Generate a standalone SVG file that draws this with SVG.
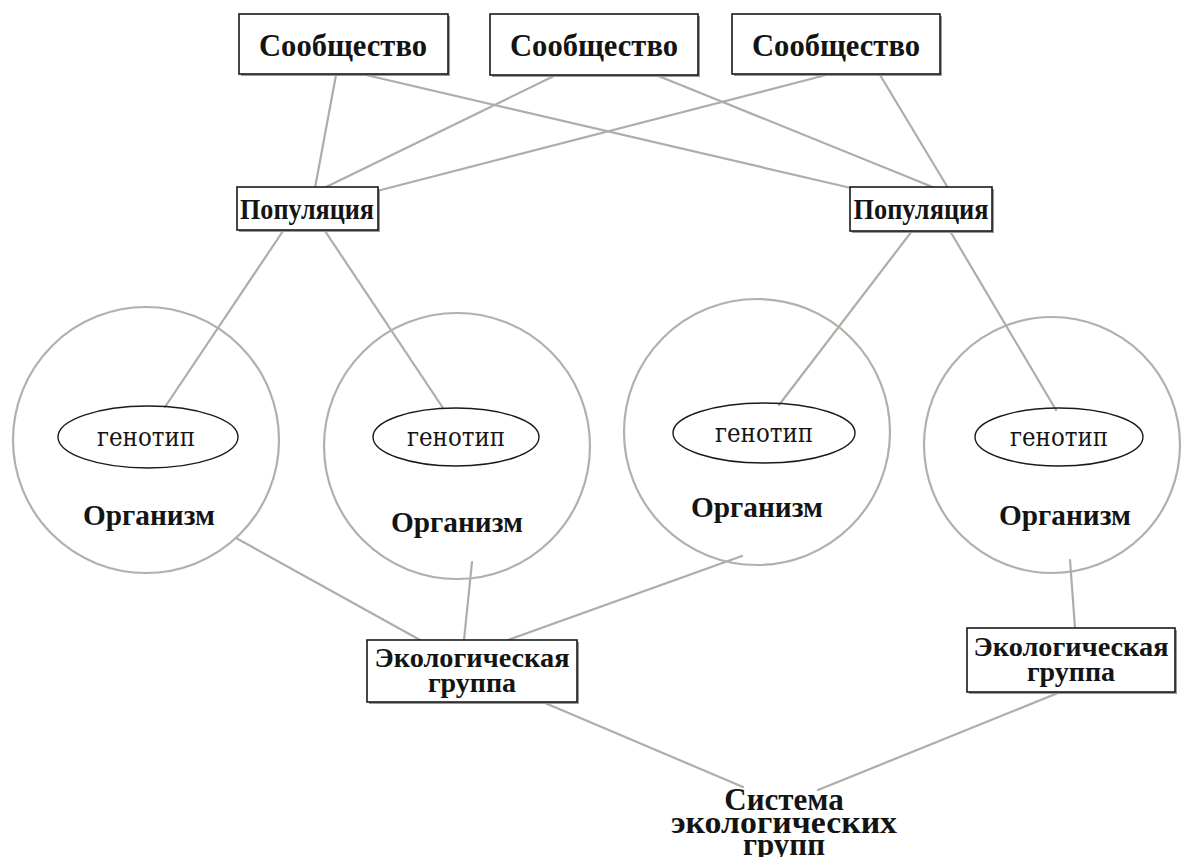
<svg xmlns="http://www.w3.org/2000/svg" width="1184" height="857" viewBox="0 0 1184 857">
<style>
.bg{fill:#ffffff}
.box{fill:#ffffff;stroke:#1a1a1a;stroke-width:1.6}
.shadow{fill:none;stroke:#9a9a9a;stroke-width:2}
.org{fill:none;stroke:#b3afab;stroke-width:2.2}
.gen{fill:none;stroke:#1a1a1a;stroke-width:1.4}
.con{stroke:#b0aca8;stroke-width:2.2;fill:none;stroke-linecap:round}
.tb{font-family:"Liberation Serif","DejaVu Serif",serif;font-weight:bold;fill:#141414;text-anchor:middle}
.tr{font-family:"DejaVu Serif","Liberation Serif",serif;font-weight:normal;fill:#141414;text-anchor:middle}
</style>
<rect class="bg" x="0" y="0" width="1184" height="857"/>
<g id="connectors">
<line class="con" x1="336" y1="75" x2="315" y2="188"/>
<line class="con" x1="366" y1="75" x2="851" y2="188"/>
<line class="con" x1="556" y1="75" x2="324" y2="188"/>
<line class="con" x1="656" y1="75" x2="935" y2="188"/>
<line class="con" x1="826" y1="75" x2="377" y2="191"/>
<line class="con" x1="880" y1="75" x2="948" y2="188"/>
<line class="con" x1="283" y1="231" x2="165" y2="407"/>
<line class="con" x1="325" y1="231" x2="443" y2="408"/>
<line class="con" x1="912" y1="231" x2="779" y2="405"/>
<line class="con" x1="950" y1="231" x2="1056" y2="410"/>
<line class="con" x1="236" y1="538" x2="420" y2="640"/>
<line class="con" x1="472" y1="562" x2="464" y2="640"/>
<line class="con" x1="742" y1="556" x2="508" y2="640"/>
<line class="con" x1="1070" y1="560" x2="1075" y2="628"/>
<line class="con" x1="545" y1="703" x2="743" y2="787"/>
<line class="con" x1="1058" y1="693" x2="818" y2="790"/>
</g>
<g id="community1">
<polyline class="shadow" points="449,16 449,75 241,75"/>
<rect class="box" x="239" y="14" width="209" height="60"/>
<text class="tb" x="343" y="56" font-size="31" textLength="168" lengthAdjust="spacingAndGlyphs">Сообщество</text>
</g>
<g id="community2">
<polyline class="shadow" points="699,16 699,76 492,76"/>
<rect class="box" x="490" y="14" width="208" height="61"/>
<text class="tb" x="594" y="56" font-size="31" textLength="168" lengthAdjust="spacingAndGlyphs">Сообщество</text>
</g>
<g id="community3">
<polyline class="shadow" points="941,16 941,75 734,75"/>
<rect class="box" x="732" y="14" width="208" height="60"/>
<text class="tb" x="836" y="56" font-size="31" textLength="168" lengthAdjust="spacingAndGlyphs">Сообщество</text>
</g>
<g id="population1">
<polyline class="shadow" points="379,189 379,231 239,231"/>
<rect class="box" x="237" y="187" width="141" height="43"/>
<text class="tb" x="307" y="219" font-size="30" textLength="134" lengthAdjust="spacingAndGlyphs">Популяция</text>
</g>
<g id="population2">
<polyline class="shadow" points="993,189 993,232 852,232"/>
<rect class="box" x="850" y="187" width="142" height="44"/>
<text class="tb" x="921" y="219" font-size="30" textLength="135" lengthAdjust="spacingAndGlyphs">Популяция</text>
</g>
<g id="organism1">
<circle class="org" cx="146" cy="440" r="133"/>
<ellipse class="gen" cx="148" cy="437" rx="90" ry="31"/>
<text class="tr" x="146" y="446" font-size="26" textLength="98" lengthAdjust="spacingAndGlyphs">генотип</text>
<text class="tb" x="149" y="525" font-size="30" textLength="132" lengthAdjust="spacingAndGlyphs">Организм</text>
</g>
<g id="organism2">
<circle class="org" cx="457" cy="446" r="133"/>
<ellipse class="gen" cx="456" cy="437" rx="83" ry="29"/>
<text class="tr" x="456" y="446" font-size="26" textLength="98" lengthAdjust="spacingAndGlyphs">генотип</text>
<text class="tb" x="457" y="532" font-size="30" textLength="132" lengthAdjust="spacingAndGlyphs">Организм</text>
</g>
<g id="organism3">
<circle class="org" cx="757" cy="432" r="133"/>
<ellipse class="gen" cx="764" cy="433" rx="91" ry="30"/>
<text class="tr" x="764" y="442" font-size="26" textLength="98" lengthAdjust="spacingAndGlyphs">генотип</text>
<text class="tb" x="757" y="517" font-size="30" textLength="132" lengthAdjust="spacingAndGlyphs">Организм</text>
</g>
<g id="organism4">
<circle class="org" cx="1052" cy="445" r="128"/>
<ellipse class="gen" cx="1059" cy="437" rx="84" ry="29"/>
<text class="tr" x="1059" y="446" font-size="26" textLength="98" lengthAdjust="spacingAndGlyphs">генотип</text>
<text class="tb" x="1065" y="525" font-size="30" textLength="132" lengthAdjust="spacingAndGlyphs">Организм</text>
</g>
<g id="ecogroup1">
<polyline class="shadow" points="578,642 578,703 369,703"/>
<rect class="box" x="367" y="640" width="210" height="62"/>
<text class="tb" x="472" y="667" font-size="28" textLength="195" lengthAdjust="spacingAndGlyphs">Экологическая</text>
<text class="tb" x="472" y="692" font-size="28">группа</text>
</g>
<g id="ecogroup2">
<polyline class="shadow" points="1176,630 1176,693 969,693"/>
<rect class="box" x="967" y="628" width="208" height="64"/>
<text class="tb" x="1071" y="656" font-size="28" textLength="195" lengthAdjust="spacingAndGlyphs">Экологическая</text>
<text class="tb" x="1071" y="681" font-size="28">группа</text>
</g>
<g id="system">
<text class="tb" x="784" y="810" font-size="31">Система</text>
<text class="tb" x="784" y="833" font-size="31" textLength="226" lengthAdjust="spacingAndGlyphs">экологических</text>
<text class="tb" x="784" y="855" font-size="31">групп</text>
</g>
</svg>
